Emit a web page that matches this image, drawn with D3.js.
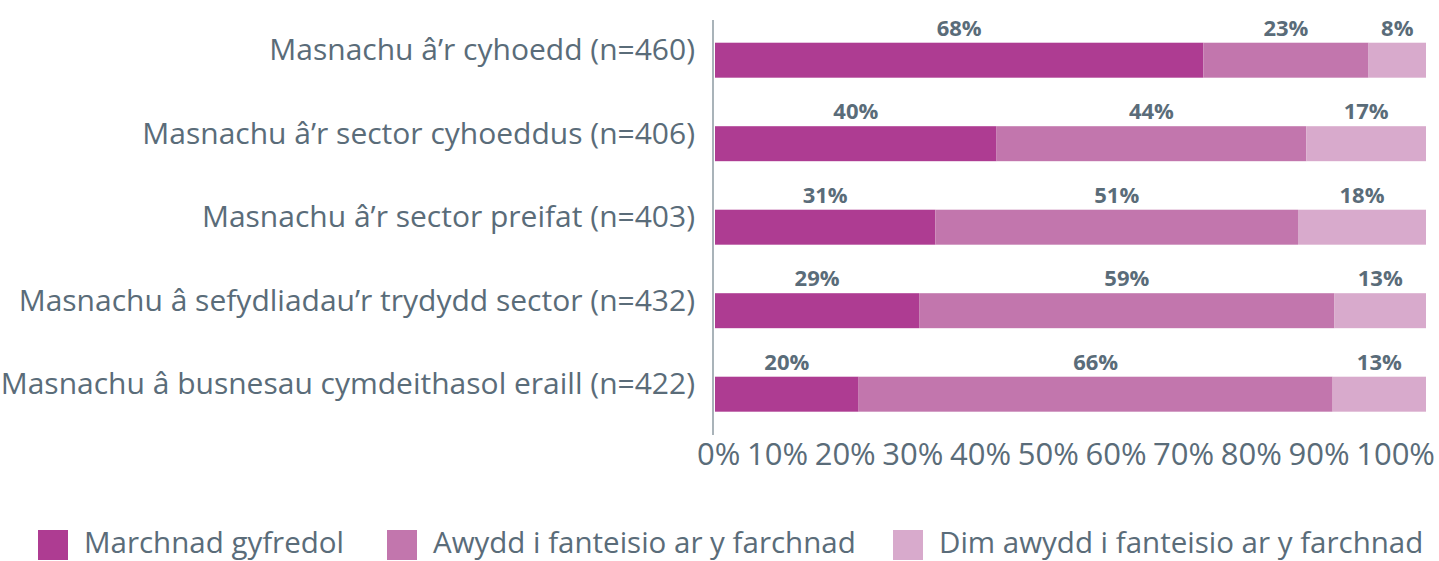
<!DOCTYPE html>
<html>
<head>
<meta charset="utf-8">
<script src="https://cdn.jsdelivr.net/npm/d3@7"></script>
<style>
  html, body { margin: 0; padding: 0; background: #fff; }
  svg { display: block; }
  text { font-family: "Open Sans", "Noto Sans", sans-serif; }
</style>
</head>
<body>
<svg id="chart" width="1439" height="561"></svg>
<script>
const categories = [
  "Masnachu â’r cyhoedd (n=460)",
  "Masnachu â’r sector cyhoeddus (n=406)",
  "Masnachu â’r sector preifat (n=403)",
  "Masnachu â sefydliadau’r trydydd sector (n=432)",
  "Masnachu â busnesau cymdeithasol eraill (n=422)"
];
const seriesNames = [
  "Marchnad gyfredol",
  "Awydd i fanteisio ar y farchnad",
  "Dim awydd i fanteisio ar y farchnad"
];
const marchnadGyfredol = [68, 40, 31, 29, 20];
const awydd = [23, 44, 51, 59, 66];
const dimAwydd = [8, 17, 18, 13, 13];
const tickValues = [0, 0.1, 0.2, 0.3, 0.4, 0.5, 0.6, 0.7, 0.8, 0.9, 1.0];
const colors = ["#ae3c92", "#c276ad", "#d8aacc"];
const textColor = "#5a6c79";

const rows = categories.map((c, i) => ({
  cat: c,
  s0: marchnadGyfredol[i],
  s1: awydd[i],
  s2: dimAwydd[i]
}));
const keys = ["s0", "s1", "s2"];
const stacked = d3.stack().keys(keys).offset(d3.stackOffsetExpand)(rows);

const svg = d3.select("#chart");

const x = d3.scaleLinear().domain([0, 1]).range([715, 1426]);
const y = d3.scaleBand().domain(categories)
  .range([18.45, 435.95]).paddingInner(0.581).paddingOuter(0.2905);

// bars
const groups = svg.append("g").selectAll("g").data(stacked).join("g")
  .attr("fill", (d, i) => colors[i]);
groups.selectAll("rect").data(d => d.map(v => ({v, key: d.key}))).join("rect")
  .attr("x", d => x(d.v[0]))
  .attr("y", d => y(d.v.data.cat))
  .attr("width", d => x(d.v[1]) - x(d.v[0]))
  .attr("height", y.bandwidth());

// data labels
groups.selectAll("text").data(d => d.map(v => ({v, key: d.key}))).join("text")
  .attr("x", d => (x(d.v[0]) + x(d.v[1])) / 2)
  .attr("y", d => y(d.v.data.cat) - 7)
  .attr("text-anchor", "middle")
  .attr("fill", textColor)
  .attr("font-size", 22)
  .attr("font-weight", "bold")
  .text(d => d.v.data[d.key] + "%");

// y axis
const yAxis = svg.append("g").attr("transform", "translate(713,0)")
  .call(d3.axisLeft(y).tickSize(0).tickPadding(18));
yAxis.select(".domain").attr("stroke", "#7b8a94").attr("stroke-width", 1.3)
  .attr("d", "M0,20V435");
yAxis.selectAll(".tick").attr("transform", d => `translate(0,${y(d) + y.bandwidth() / 2})`);
yAxis.selectAll(".tick text")
  .attr("font-size", 30)
  .attr("fill", textColor)
  .attr("dy", null)
  .attr("y", 0)
  .attr("x", -18);

// x axis (labels only), packed as in reference
const xAxis = svg.append("g")
  .call(d3.axisBottom(x).tickValues(tickValues).tickFormat(d3.format(".0%")).tickSize(0));
xAxis.select(".domain").remove();
const tickTexts = xAxis.selectAll(".tick text")
  .attr("font-size", 31)
  .attr("fill", textColor)
  .attr("dy", null)
  .attr("y", 465)
  .attr("text-anchor", "start");
const widths = tickTexts.nodes().map(n => n.getComputedTextLength());
const startX = 697, endX = 1435;
const gap = (endX - startX - d3.sum(widths)) / (widths.length - 1);
let cx = startX;
xAxis.selectAll(".tick").each(function(d, i) {
  d3.select(this).attr("transform", `translate(${cx},0)`);
  d3.select(this).select("text").attr("x", 0);
  cx += widths[i] + gap;
});

// legend
const legendX = [38, 387, 893];
const legend = svg.append("g");
seriesNames.forEach((name, i) => {
  legend.append("rect").attr("x", legendX[i]).attr("y", 530).attr("width", 30).attr("height", 30)
    .attr("fill", colors[i]);
  legend.append("text").attr("x", legendX[i] + 46).attr("y", 553)
    .attr("font-size", 29.5).attr("fill", textColor).text(name);
});
</script>
</body>
</html>
